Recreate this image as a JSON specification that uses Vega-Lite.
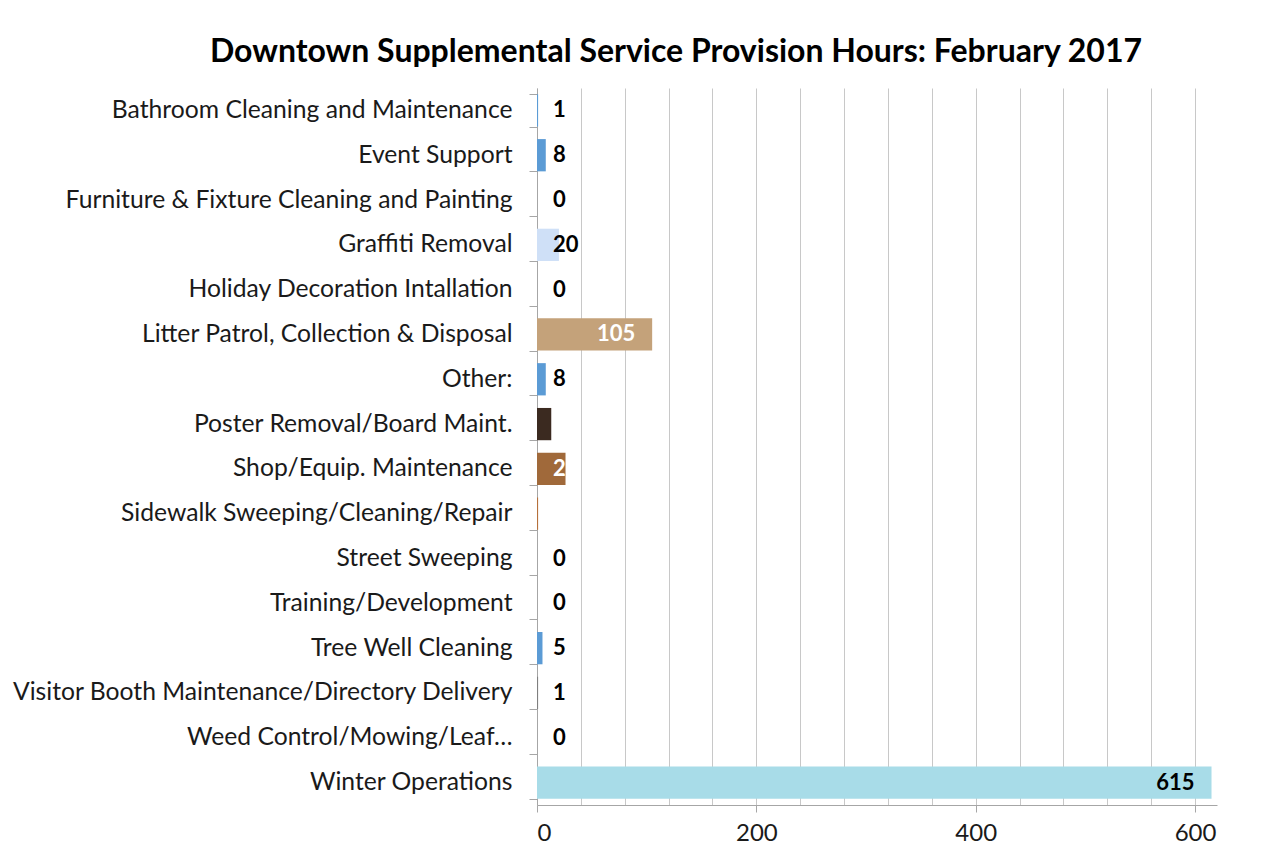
{
  "$schema": "https://vega.github.io/schema/vega-lite/v6.json",
  "autosize": {"type": "none"},
  "width": 680,
  "height": 717,
  "padding": {"left": 537, "top": 88, "right": 61, "bottom": 62},
  "background": "white",
  "config": {"view": {"stroke": null}, "font": "Lato"},
  "title": {
    "text": "Downtown Supplemental Service Provision Hours: February 2017",
    "font": "Lato",
    "fontSize": 32,
    "fontWeight": "bold",
    "color": "#000000",
    "anchor": "middle",
    "frame": "group",
    "dx": -201,
    "offset": 6
  },
  "data": {
    "values": [
      {"category": "Bathroom Cleaning and Maintenance", "hours": 1, "label": "1"},
      {"category": "Event Support", "hours": 8, "label": "8"},
      {"category": "Furniture & Fixture Cleaning and Painting", "hours": 0, "label": "0"},
      {"category": "Graffiti Removal", "hours": 20, "label": "20"},
      {"category": "Holiday Decoration Intallation", "hours": 0, "label": "0"},
      {"category": "Litter Patrol, Collection & Disposal", "hours": 105, "label": "105"},
      {"category": "Other:", "hours": 8, "label": "8"},
      {"category": "Poster Removal/Board Maint.", "hours": 13, "label": ""},
      {"category": "Shop/Equip. Maintenance", "hours": 26, "label": "2"},
      {"category": "Sidewalk Sweeping/Cleaning/Repair", "hours": 1, "label": ""},
      {"category": "Street Sweeping", "hours": 0, "label": "0"},
      {"category": "Training/Development", "hours": 0, "label": "0"},
      {"category": "Tree Well Cleaning", "hours": 5, "label": "5"},
      {"category": "Visitor Booth Maintenance/Directory Delivery", "hours": 1, "label": "1"},
      {"category": "Weed Control/Mowing/Leaf…", "hours": 0, "label": "0"},
      {"category": "Winter Operations", "hours": 615, "label": "615"}
    ]
  },
  "encoding": {
    "y": {
      "field": "category",
      "type": "nominal",
      "sort": null,
      "title": null,
      "scale": {"paddingInner": 0.28, "paddingOuter": 0.14},
      "axis": {
        "labelFont": "Lato",
        "labelFontSize": 24.7,
        "labelColor": "#1a1a1a",
        "labelLimit": 600,
        "labelPadding": 17,
        "tickSize": 8,
        "tickBand": "extent",
        "tickColor": "#A6A6A6",
        "domainColor": "#A6A6A6",
        "grid": false
      }
    }
  },
  "layer": [
    {
      "mark": {"type": "bar"},
      "encoding": {
        "x": {
          "field": "hours",
          "type": "quantitative",
          "title": null,
          "scale": {"domain": [0, 620], "nice": false},
          "axis": {
            "values": [0, 40, 80, 120, 160, 200, 240, 280, 320, 360, 400, 440, 480, 520, 560, 600],
            "labelExpr": "datum.value % 200 == 0 ? datum.label : ''",
            "labelFont": "Lato",
            "labelFontSize": 24,
            "labelColor": "#1a1a1a",
            "labelPadding": 9,
            "tickSize": 7,
            "tickColor": "#A6A6A6",
            "tickOpacity": {"expr": "datum.value % 200 == 0 ? 1 : 0"},
            "domainColor": "#A6A6A6",
            "grid": true,
            "gridColor": "#C8C8C8",
            "gridWidth": 1
          }
        },
        "color": {
          "field": "category",
          "type": "nominal",
          "legend": null,
          "scale": {
            "domain": [
              "Bathroom Cleaning and Maintenance", "Event Support", "Furniture & Fixture Cleaning and Painting",
              "Graffiti Removal", "Holiday Decoration Intallation", "Litter Patrol, Collection & Disposal",
              "Other:", "Poster Removal/Board Maint.", "Shop/Equip. Maintenance",
              "Sidewalk Sweeping/Cleaning/Repair", "Street Sweeping", "Training/Development",
              "Tree Well Cleaning", "Visitor Booth Maintenance/Directory Delivery", "Weed Control/Mowing/Leaf…",
              "Winter Operations"
            ],
            "range": [
              "#5B9BD5", "#5B9BD5", "#5B9BD5",
              "#CFE0F7", "#5B9BD5", "#C4A27A",
              "#5B9BD5", "#3B2A20", "#A0693A",
              "#B5703B", "#5B9BD5", "#5B9BD5",
              "#5B9BD5", "#7F7F7F", "#5B9BD5",
              "#A8DCE8"
            ]
          }
        }
      }
    },
    {
      "transform": [{"filter": "datum.hours < 50"}],
      "mark": {"type": "text", "align": "left", "dx": 16, "fontSize": 22, "fontWeight": "bold", "font": "Lato"},
      "encoding": {
        "x": {"datum": 0, "type": "quantitative"},
        "text": {"field": "label"},
        "color": {
          "condition": {"test": "datum.category == 'Shop/Equip. Maintenance'", "value": "#ffffff"},
          "value": "#000000"
        }
      }
    },
    {
      "transform": [{"filter": "datum.hours >= 50"}],
      "mark": {"type": "text", "align": "right", "dx": -17, "fontSize": 22, "fontWeight": "bold", "font": "Lato"},
      "encoding": {
        "x": {"field": "hours", "type": "quantitative"},
        "text": {"field": "label"},
        "color": {
          "condition": {"test": "datum.category == 'Litter Patrol, Collection & Disposal'", "value": "#ffffff"},
          "value": "#000000"
        }
      }
    }
  ]
}
